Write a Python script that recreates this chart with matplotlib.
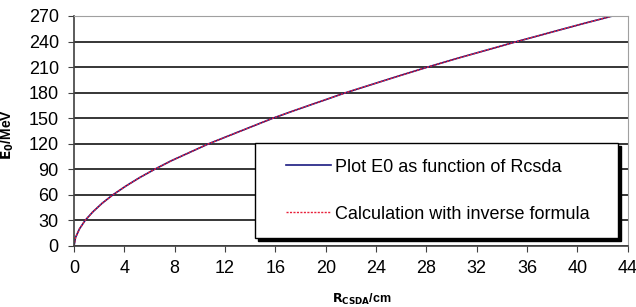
import numpy as np
import matplotlib.pyplot as plt
from matplotlib.ticker import MultipleLocator
from matplotlib.legend_handler import HandlerLine2D

plt.rcParams["font.family"] = ["Liberation Sans", "DejaVu Sans"]

# CSDA range (cm) and energy (MeV)
r_csda = [0, 0.12, 0.43, 0.88, 1.49, 2.22, 3.08, 4.08, 5.18, 6.40, 7.72,
          10.7, 14.1, 15.8, 17.7, 21.6, 25.9, 28.1, 30.4, 35.2, 37.7, 40.2, 42.8]
e0 = [0, 10, 20, 30, 40, 50, 60, 70, 80, 90, 100,
      120, 140, 150, 160, 180, 200, 210, 220, 240, 250, 260, 270]


class InsetHandler(HandlerLine2D):
    # leave a gap before the legend line, like the original
    def get_xdata(self, legend, xdescent, ydescent, width, height, fontsize):
        gap = 0.25 * width
        xd = np.array([-xdescent + gap, -xdescent + width])
        return xd, xd


fig = plt.figure(figsize=(6.36, 3.07), dpi=100)
ax = fig.add_axes([0.1164, 0.1987, 0.8706, 0.7493])

ax.plot(r_csda, e0, color="#1a1a80", lw=1.2, label="Plot E0 as function of Rcsda")
ax.plot(r_csda, e0, color="#e8203a", lw=1.0, ls=(0, (1.5, 1)),
        label="Calculation with inverse formula")

ax.set_xlim(0, 44)
ax.set_ylim(0, 270)
ax.xaxis.set_major_locator(MultipleLocator(4))
ax.yaxis.set_major_locator(MultipleLocator(30))
ax.grid(axis="y", color="black", lw=1.1)
ax.set_axisbelow(True)

for s in ("top", "right"):
    ax.spines[s].set_color("#a0a0a0")
for s in ("left", "bottom"):
    ax.spines[s].set_color("#404040")
    ax.spines[s].set_linewidth(1.2)
ax.tick_params(labelsize=13, length=4, color="#404040")
ax.tick_params(axis="y", pad=7)
ax.tick_params(axis="x", pad=6)

ax.set_xlabel(r"$\mathbf{R_{CSDA}}$/cm", fontsize=9, fontweight="bold")
ax.xaxis.set_label_coords(0.52, -0.2)
ax.set_ylabel(r"$\mathbf{E_0}$/MeV", fontsize=10, fontweight="bold")
ax.yaxis.set_label_coords(-0.105, 0.485)

leg = ax.legend(loc="lower left", bbox_to_anchor=(0.327, 0.035, 0.655, 0.419),
                mode="expand", fontsize=13, frameon=True, fancybox=False,
                shadow={"color": "black", "alpha": 1}, edgecolor="black",
                handlelength=3.35, handletextpad=0.25, labelspacing=1.65,
                borderpad=0.85, borderaxespad=0,
                handler_map={plt.Line2D: InsetHandler()})
leg.get_frame().set_linewidth(1.0)

fig.savefig("out.png", dpi=100)
